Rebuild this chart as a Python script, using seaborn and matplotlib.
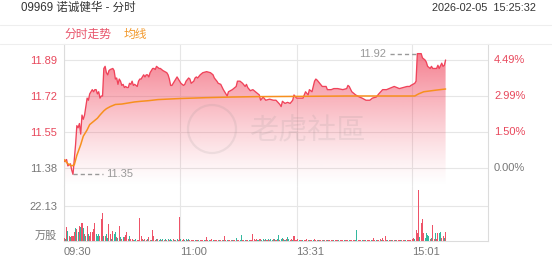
import numpy as np
import pandas as pd
import matplotlib
matplotlib.use("Agg")
import matplotlib.pyplot as plt
import seaborn as sns
from matplotlib.patches import Polygon, Ellipse
from matplotlib.lines import Line2D
from matplotlib.colors import to_rgb

# ---------------- data ----------------
title_left = "09969 诺诚健华 - 分时"
title_right = "2026-02-05  15:25:32"
legend_labels = ["分时走势", "均线"]

# minutes after 09:30 (trading minutes, lunch break removed)
price_minutes = [0, 2, 3, 5, 6, 7, 9, 10, 11, 12, 13, 14, 15, 16, 17, 18, 19, 20, 21, 22,
                 23, 24, 25, 26, 27, 28, 29, 30, 31, 32, 33, 34, 35, 36, 38, 39, 40, 41, 42, 43,
                 44, 45, 46, 47, 48, 49, 50, 51, 52, 53, 54, 55, 57, 58, 59, 60, 61, 62, 63, 64,
                 65, 66, 67, 68, 69, 70, 71, 72, 74, 75, 77, 80, 81, 82, 83, 84, 85, 86, 88, 89,
                 90, 91, 93, 94, 95, 97, 98, 99, 101, 102, 103, 104, 106, 108, 111, 114, 116, 117, 119, 120,
                 122, 124, 125, 126, 127, 128, 131, 134, 135, 137, 139, 141, 142, 143, 145, 147, 150, 152, 153, 155,
                 157, 160, 163, 165, 168, 169, 170, 172, 174, 176, 178, 179, 181, 183, 186, 187, 188, 190, 191, 193,
                 195, 196, 197, 199, 201, 204, 205, 208, 210, 213, 217, 220, 221, 222, 224, 227, 230, 232, 235, 238,
                 240, 243, 245, 248, 251, 253, 257, 261, 264, 267, 269, 270, 273, 274, 275, 276, 278, 279, 281, 282,
                 283, 285, 286, 287, 290, 291, 292, 294, 295, 296, 297]
price_values = [11.41, 11.42, 11.39, 11.40, 11.37, 11.35, 11.49, 11.58, 11.57, 11.59, 11.54, 11.63, 11.61, 11.63, 11.67, 11.71, 11.70, 11.73, 11.74, 11.75,
                11.74, 11.75, 11.75, 11.73, 11.74, 11.71, 11.72, 11.72, 11.85, 11.86, 11.83, 11.82, 11.84, 11.845, 11.85, 11.84, 11.80, 11.805, 11.775, 11.80,
                11.79, 11.77, 11.775, 11.76, 11.765, 11.76, 11.76, 11.78, 11.775, 11.79, 11.77, 11.775, 11.765, 11.79, 11.80, 11.80, 11.81, 11.82, 11.81, 11.82,
                11.82, 11.81, 11.83, 11.84, 11.85, 11.85, 11.845, 11.86, 11.85, 11.85, 11.84, 11.83, 11.82, 11.80, 11.77, 11.77, 11.78, 11.79, 11.81, 11.80,
                11.79, 11.78, 11.77, 11.775, 11.79, 11.805, 11.80, 11.78, 11.79, 11.805, 11.81, 11.805, 11.82, 11.83, 11.835, 11.83, 11.82, 11.805, 11.79, 11.78,
                11.775, 11.75, 11.74, 11.73, 11.72, 11.74, 11.75, 11.765, 11.79, 11.79, 11.78, 11.765, 11.775, 11.76, 11.745, 11.75, 11.735, 11.725, 11.70, 11.715,
                11.70, 11.705, 11.70, 11.70, 11.68, 11.67, 11.695, 11.685, 11.69, 11.685, 11.70, 11.725, 11.71, 11.71, 11.71, 11.725, 11.74, 11.725, 11.75, 11.74,
                11.79, 11.80, 11.795, 11.78, 11.765, 11.765, 11.75, 11.75, 11.755, 11.755, 11.75, 11.755, 11.77, 11.765, 11.74, 11.725, 11.715, 11.71, 11.70, 11.70,
                11.71, 11.715, 11.73, 11.75, 11.75, 11.755, 11.765, 11.755, 11.76, 11.765, 11.765, 11.77, 11.78, 11.79, 11.92, 11.92, 11.92, 11.90, 11.89, 11.88,
                11.86, 11.85, 11.86, 11.85, 11.85, 11.865, 11.85, 11.875, 11.86, 11.865, 11.89]

avg_minutes = [0, 3, 6, 8, 10, 13, 15, 18, 20, 23, 26, 28, 31, 33, 36, 40, 45, 50, 55, 60,
               66, 73, 90, 110, 130, 150, 180, 220, 273, 276, 280, 290, 297]
avg_values = [11.42, 11.40, 11.39, 11.395, 11.44, 11.49, 11.53, 11.56, 11.585, 11.60, 11.615, 11.63, 11.65, 11.66, 11.67, 11.68, 11.682, 11.687, 11.692, 11.695,
              11.698, 11.703, 11.708, 11.712, 11.715, 11.717, 11.718, 11.72, 11.72, 11.73, 11.74, 11.748, 11.753]

# volume per minute (万股) and direction (r = up, d = down)
volume = [2.0, 1.0, 8.6, 6.5, 3.2, 2.2, 3.2, 3.2, 5.4, 8.0,
          7.5, 5.4, 9.7, 8.6, 11.4, 8.0, 4.3, 3.2, 9.2, 4.3,
          3.2, 5.8, 5.8, 7.5, 11.4, 4.3, 3.2, 4.3, 3.2, 14.0,
          17.8, 3.2, 3.2, 4.3, 2.0, 10.8, 4.3, 1.5, 6.5, 4.3,
          5.4, 2.8, 2.0, 9.2, 2.2, 1.5, 2.8, 2.2, 3.7, 5.4,
          1.5, 3.2, 1.0, 1.0, 0.6, 0.5, 1.0, 0.5, 0.6, 14.6,
          3.2, 1.0, 0.5, 1.0, 0.6, 1.5, 2.2, 0.8, 0.6, 6.9,
          3.2, 0.8, 1.5, 1.0, 0.6, 1.5, 0.8, 1.5, 0.6, 1.5,
          0.6, 1.5, 0.6, 1.5, 0.6, 1.0, 0.6, 0.8, 1.5, 0.6,
          15.0, 1.5, 0.6, 1.5, 0.6, 1.0, 0.6, 1.5, 0.6, 0.8,
          0.6, 0.8, 0.5, 0.6, 0.8, 0.5, 0.6, 0.5, 0.8, 0.6,
          0.8, 2.7, 0.6, 0.5, 0.8, 1.0, 0.6, 0.5, 0.6, 0.8,
          0.6, 0.5, 0.8, 0.6, 0.5, 3.1, 0.6, 0.5, 0.6, 0.5,
          0.5, 0.6, 0.5, 0.8, 1.6, 0.5, 0.6, 0.5, 3.5, 0.6,
          0.5, 0.8, 0.5, 0.6, 0.6, 0.8, 0.5, 4.3, 1.0, 0.8,
          1.2, 0.8, 1.0, 1.2, 0.6, 1.5, 0.8, 1.0, 0.6, 1.2,
          0.8, 1.5, 0.6, 1.0, 1.5, 0.8, 1.0, 3.7, 0.8, 1.2,
          2.0, 1.0, 0.8, 1.2, 2.7, 1.0, 0.6, 1.0, 0.8, 3.1,
          0.8, 0.6, 1.0, 0.5, 0.8, 0.6, 0.5, 0.8, 0.6, 1.0,
          0.5, 0.6, 0.8, 0.5, 0.6, 1.0, 0.5, 0.6, 0.8, 0.5,
          0.6, 0.8, 0.5, 0.6, 0.5, 0.8, 0.6, 0.5, 0.6, 0.8,
          0.5, 0.6, 0.8, 0.5, 0.6, 0.5, 0.8, 0.6, 0.5, 0.6,
          0.8, 0.5, 0.6, 0.8, 0.5, 0.6, 0.8, 0.6, 6.8, 0.5,
          0.6, 0.5, 0.6, 0.5, 0.8, 0.6, 0.5, 0.6, 0.5, 0.6,
          0.8, 1.6, 0.6, 0.5, 0.8, 0.6, 1.2, 0.6, 1.8, 0.8,
          3.1, 0.6, 0.5, 0.8, 0.6, 0.5, 0.6, 0.8, 0.5, 0.6,
          0.5, 0.6, 0.8, 0.5, 0.6, 0.5, 0.8, 0.6, 0.8, 0.6,
          0.8, 1.0, 1.7, 1.2, 7.2, 5.0, 32.0, 2.7, 11.0, 14.0,
          4.8, 2.0, 4.8, 3.7, 3.1, 1.5, 2.0, 10.0, 1.0, 4.8,
          1.5, 4.8, 5.2, 5.8, 2.0, 3.1, 2.0, 5.8]
direction = ("rdrdrdrrrd" "rdrdrdrdrd" "rrrrrdddrr" "rdrddrrdrd" "drdrdrdrrr"
             "rdrrrddrrr" "rrdrrdrrdr" "rrdrddrdrd" "rdrddrdrdr" "rdrrddrdrr"
             "rrdrrdrrrd" "rrrdrrdrrr" "rdrrdrrdrr" "rdrrdrrddr" "rdrrdrrrrr"
             "rdrrddrdrd" "rddrdrddrd" "drdrddrrdr" "rrrdrrdrrr" "rdrrdrrrdr"
             "rrdrrdrrrr" "drrrdrrrdr" "rrdrrrrddr" "rrdrrdrrrd" "rrrdrrrdrr"
             "rrdrrdrrdr" "rrdrrrdrrr" "rrrdrrrdrr" "rddddrdrrd" "rrddrrdr")

price_ticks = [11.38, 11.55, 11.72, 11.89]
price_tick_labels = ["11.38", "11.55", "11.72", "11.89"]
pct_labels = ["0.00%", "1.50%", "2.99%", "4.49%"]
vol_tick = 22.13
vol_tick_label = "22.13"
vol_unit = "万股"
time_ticks = [0, 90, 181, 271]
time_labels = ["09:30", "11:00", "13:31", "15:01"]
session_minutes = 330

# ---------------- style ----------------
RED = "#f0435a"
BAR_RED = "#ee5368"
TEAL = "#33b89f"
ORANGE = "#f7901e"
GRID = "#e6e6e6"
SPINE = "#dcdcdc"
GRAY = "#777777"

sns.set_theme(style="white")
plt.rcParams['font.family'] = ['Liberation Sans', 'Noto Sans CJK SC', 'DejaVu Sans']

W, H = 552, 265
fig = plt.figure(figsize=(W / 100, H / 100), dpi=100)
fig.patch.set_facecolor("white")


def fx(px):
    return px / W


def fy(py):
    return 1 - py / H


ax = fig.add_axes([fx(64), fy(186), (488 - 64) / W, (186 - 44) / H])
axv = fig.add_axes([fx(64), fy(241), (488 - 64) / W, (241 - 186) / H], sharex=ax)

# ---------------- price panel ----------------
ax.set_xlim(0, session_minutes)
ax.set_ylim(11.295, 11.9655)
ymin, ymax = ax.get_ylim()

pm = np.array(price_minutes, dtype=float)
pv = np.array(price_values, dtype=float)

# gradient fill under price line
n = 256
t = np.linspace(0, 1, n)
rgba = np.zeros((n, 1, 4))
rgba[..., :3] = to_rgb(RED)
rgba[:, 0, 3] = 0.68 * t ** 1.25
im = ax.imshow(rgba, extent=[pm[0], pm[-1], ymin, pv.max()], origin="lower",
               aspect="auto", zorder=2, interpolation="bilinear")
verts = [(pm[0], ymin)] + list(zip(pm, pv)) + [(pm[-1], ymin)]
poly = Polygon(verts, closed=True, transform=ax.transData, facecolor="none", edgecolor="none")
ax.add_patch(poly)
im.set_clip_path(poly)

sns.lineplot(x=pm, y=pv, ax=ax, color=RED, linewidth=0.95, zorder=5, estimator=None, sort=False)
sns.lineplot(x=avg_minutes, y=avg_values, ax=ax, color=ORANGE, linewidth=1.1, zorder=6,
             estimator=None, sort=False)

ax.set_xlim(0, session_minutes)
ax.set_ylim(ymin, ymax)
ax.set_yticks(price_ticks)
ax.set_yticklabels(price_tick_labels)
for lbl, val in zip(ax.get_yticklabels(), price_ticks):
    lbl.set_color(GRAY if val == price_ticks[0] else "#e8485c")
ax.tick_params(axis="y", length=0, pad=5, labelsize=8)
ax.tick_params(axis="x", length=0, labelbottom=False)
ax.set_xticks(time_ticks)
ax.grid(True, color=GRID, linewidth=0.8)
ax.set_axisbelow(True)
ax.set_xlabel("")
ax.set_ylabel("")
for s in ["top", "bottom"]:
    ax.spines[s].set_visible(False)
for s in ["left", "right"]:
    ax.spines[s].set_color(SPINE)
    ax.spines[s].set_linewidth(0.8)

for val, lab in zip(price_ticks, pct_labels):
    ax.text(1 + 6 / 424, val, lab, transform=ax.get_yaxis_transform(), ha="left", va="center",
            fontsize=8, color=GRAY if val == price_ticks[0] else "#e8485c")

# max / min markers
imax = int(np.argmax(pv))
imin = int(np.argmin(pv))
mx, my = pm[imax], pv[imax]
nx, ny = pm[imin], pv[imin]
ax.plot([mx - 21, mx], [my, my], color="#999999", lw=1.0, ls=(0, (3, 2.2)), zorder=7)
ax.text(mx - 24, my, f"{my:.2f}", ha="right", va="center", fontsize=8, color="#999999", zorder=7)
ax.plot([nx, nx + 23], [ny, ny], color="#999999", lw=1.0, ls=(0, (3, 2.2)), zorder=7)
ax.text(nx + 26, ny, f"{ny:.2f}", ha="left", va="center", fontsize=8, color="#999999", zorder=7)

# ---------------- volume panel ----------------
vdf = pd.DataFrame({"m": np.arange(len(volume)), "v": volume, "d": list(direction[:len(volume)])})
for key, col in [("r", BAR_RED), ("d", TEAL)]:
    sub = vdf[vdf["d"] == key]
    axv.bar(sub["m"], sub["v"], width=0.8, color=col, linewidth=0, zorder=3)

axv.set_xlim(0, session_minutes)
axv.set_ylim(0, 34.5)
axv.set_yticks([vol_tick])
axv.set_yticklabels([vol_tick_label])
axv.tick_params(axis="y", length=0, pad=5, labelsize=8, labelcolor=GRAY)
axv.set_xticks(time_ticks)
axv.set_xticklabels(time_labels)
for lbl in axv.get_xticklabels():
    lbl.set_horizontalalignment("left")
axv.tick_params(axis="x", length=0, pad=4, labelsize=8, labelcolor=GRAY)
axv.grid(True, color=GRID, linewidth=0.8)
axv.set_axisbelow(True)
axv.spines["top"].set_visible(False)
for s in ["left", "right", "bottom"]:
    axv.spines[s].set_color(SPINE)
    axv.spines[s].set_linewidth(0.8)
axv.text(-7 / 424, 5 / 55, vol_unit, transform=axv.transAxes, ha="right", va="center",
         fontsize=8, color=GRAY)

# ---------------- header ----------------
fig.text(fx(21), fy(8), title_left, ha="left", va="center", fontsize=8.3, color="#333333")
fig.text(fx(536), fy(8), title_right, ha="right", va="center", fontsize=7.8, color="#333333")
for yy in (25, 44):
    fig.add_artist(Line2D([0, 1], [fy(yy), fy(yy)], transform=fig.transFigure,
                          color="#eeeeee", lw=0.8))
fig.text(fx(64), fy(34.5), legend_labels[0], ha="left", va="center", fontsize=8.5, color="#e8546a")
fig.text(fx(124), fy(34.5), legend_labels[1], ha="left", va="center", fontsize=8.5, color="#f29a2e")

# watermark
fig.text(fx(307), fy(131), "老虎社區", ha="center", va="center", fontsize=21,
         color=(0.55, 0.55, 0.55), alpha=0.14, zorder=10)
fig.add_artist(Ellipse((fx(212), fy(129)), 48 / W, 48 / H, transform=fig.transFigure,
                       fill=False, edgecolor=(0.55, 0.55, 0.55), alpha=0.14, lw=1.6, zorder=10))

fig.savefig("out.png", dpi=100, facecolor="white")
